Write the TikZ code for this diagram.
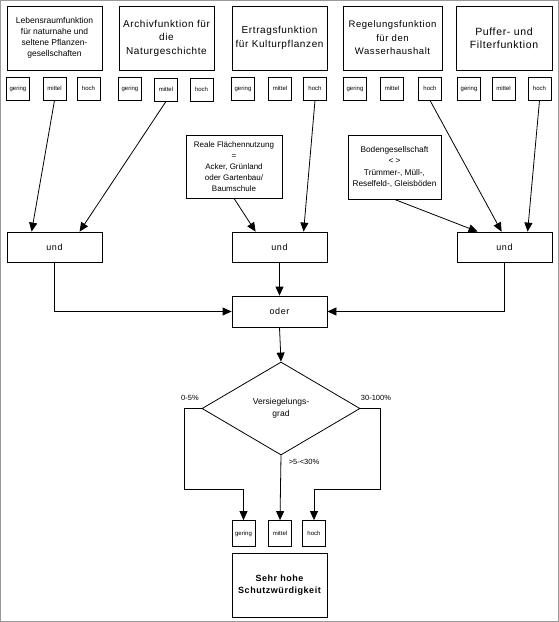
\documentclass[tikz,border=0pt]{standalone}
\usepackage{fontspec}
\setmainfont{Liberation Sans}
\newfontfamily\sperr[LetterSpace=6]{Liberation Sans}
\usetikzlibrary{arrows.meta,shapes.geometric}

\begin{document}
\begin{tikzpicture}[x=1pt,y=-1pt,
		kasten/.style={draw,line width=0.8pt,align=center,inner sep=0pt,minimum width=95pt},
		klein/.style={draw,line width=0.8pt,inner sep=0pt,minimum width=23pt,minimum height=23pt,font=\fontsize{6}{7}\selectfont},
		pfeil/.style={line width=0.8pt,-{Triangle[length=9pt,width=8pt]}},
		marke/.style={font=\fontsize{7.5}{9}\selectfont,inner sep=0pt}]
	\useasboundingbox (0,0) rectangle (559,622);
	\draw[gray!80,line width=1.2pt] (0.6,0.6) rectangle (558.4,621.4);
	% Bodenfunktionen
		\node[kasten,minimum height=64pt,font=\fontsize{8.5}{11}\selectfont] (lr) at (54.5,38) {Lebensraumfunktion\\für naturnahe und\\seltene Pflanzen-\\gesellschaften};
		\node[kasten,minimum height=64pt,font=\sperr\fontsize{10}{13.5}\selectfont] (ar) at (166.5,38) {Archivfunktion für\\die\\Naturgeschichte};
		\node[kasten,minimum height=64pt,font=\sperr\fontsize{10}{13.5}\selectfont] (er) at (279.5,38) {Ertragsfunktion\\für Kulturpflanzen};
		\node[kasten,minimum height=64pt,minimum width=99pt,font=\sperr\fontsize{9.5}{13.5}\selectfont] (rg) at (392.5,38) {Regelungsfunktion\\für den\\Wasserhaushalt};
		\node[kasten,minimum height=64pt,minimum width=96pt,font=\sperr\fontsize{10.5}{13.5}\selectfont] (pf) at (504,38) {Puffer- und\\Filterfunktion};
	% Stufen
		\node[klein] (lr-g) at (18,88.5) {gering};
		\node[klein] (lr-m) at (54.5,88.5) {mittel};
		\node[klein] (lr-h) at (88.5,88.5) {hoch};
		\node[klein] (ar-g) at (130,88.5) {gering};
		\node[klein] (ar-m) at (166,89.5) {mittel};
		\node[klein] (ar-h) at (201.5,89.5) {hoch};
		\node[klein] (er-g) at (243,88.5) {gering};
		\node[klein] (er-m) at (280,88.5) {mittel};
		\node[klein] (er-h) at (315,88.5) {hoch};
		\node[klein] (rg-g) at (355,88.5) {gering};
		\node[klein] (rg-m) at (392,88.5) {mittel};
		\node[klein] (rg-h) at (430,88.5) {hoch};
		\node[klein] (pf-g) at (469,88.5) {gering};
		\node[klein] (pf-m) at (503.5,88.5) {mittel};
		\node[klein] (pf-h) at (539.5,88.5) {hoch};
	% Bedingungen
		\node[kasten,minimum width=96pt,minimum height=63pt,font=\fontsize{8}{11}\selectfont] (nutz) at (234,166.5) {Reale Flächennutzung\\=\\Acker, Grünland\\oder Gartenbau/\\Baumschule};
		\node[kasten,minimum width=93pt,minimum height=64pt,font=\fontsize{8.3}{11.5}\selectfont] (boden) at (394.5,167) {Bodengesellschaft\\< >\\Trümmer-, Müll-,\\Reselfeld-, Gleisböden};
		\node[kasten,minimum height=30pt,font=\sperr\fontsize{9}{11}\selectfont] (u1) at (54.5,247) {und};
		\node[kasten,minimum height=30pt,font=\sperr\fontsize{9}{11}\selectfont] (u2) at (279.5,247) {und};
		\node[kasten,minimum height=30pt,font=\sperr\fontsize{9}{11}\selectfont] (u3) at (504.5,247) {und};
		\node[kasten,minimum height=31pt,font=\sperr\fontsize{9}{11}\selectfont] (oder) at (279.5,311.5) {oder};
		\node[draw,diamond,line width=0.8pt,minimum width=158pt,minimum height=93pt,inner sep=0pt,align=center,font=\fontsize{8.5}{12}\selectfont] (vg) at (281,408.5) {Versiegelungs-\\grad};
		\node[marke] (l1) at (190,398) {0-5\%};
		\node[marke] (l2) at (376,398) {30-100\%};
		\node[marke] (l3) at (304,462) {>5-<30\%};
	% Ergebnis
		\node[klein,minimum height=26pt] (s-g) at (243.5,533.5) {gering};
		\node[klein,minimum height=26pt] (s-m) at (280,533.5) {mittel};
		\node[klein,minimum height=26pt] (s-h) at (314,533.5) {hoch};
		\node[kasten,minimum height=64pt,font=\sperr\bfseries\fontsize{9}{12}\selectfont] (shw) at (279.5,585) {Sehr hohe\\Schutzwürdigkeit};
		\coordinate (lk) at (184,489);
		\coordinate (rk) at (380,489);
	% Pfeile
		\draw[pfeil] (lr-m.south) -- ([xshift=25pt]u1.north west);
		\draw[pfeil] (ar-m.south) -- ([xshift=73pt]u1.north west);
		\draw[pfeil] (nutz.south) -- ([xshift=24pt]u2.north west);
		\draw[pfeil] (er-h.south) -- ([xshift=72pt]u2.north west);
		\draw[pfeil] (boden.south) -- ([xshift=21pt]u3.north west);
		\draw[pfeil] (rg-h.south) -- ([xshift=45pt]u3.north west);
		\draw[pfeil] (pf-h.south) -- ([xshift=71pt]u3.north west);
		\draw[pfeil] (u1.south) |- (oder.west);
		\draw[pfeil] (u2.south) -- (oder.north);
		\draw[pfeil] (u3.south) |- (oder.east);
		\draw[pfeil] (oder.south) -- (vg.north);
		\draw[pfeil] (vg.west) -| (lk) -| (s-g.north);
		\draw[pfeil] (vg.south) -- (s-m.north);
		\draw[pfeil] (vg.east) -| (rk) -| (s-h.north);
\end{tikzpicture}
\end{document}
